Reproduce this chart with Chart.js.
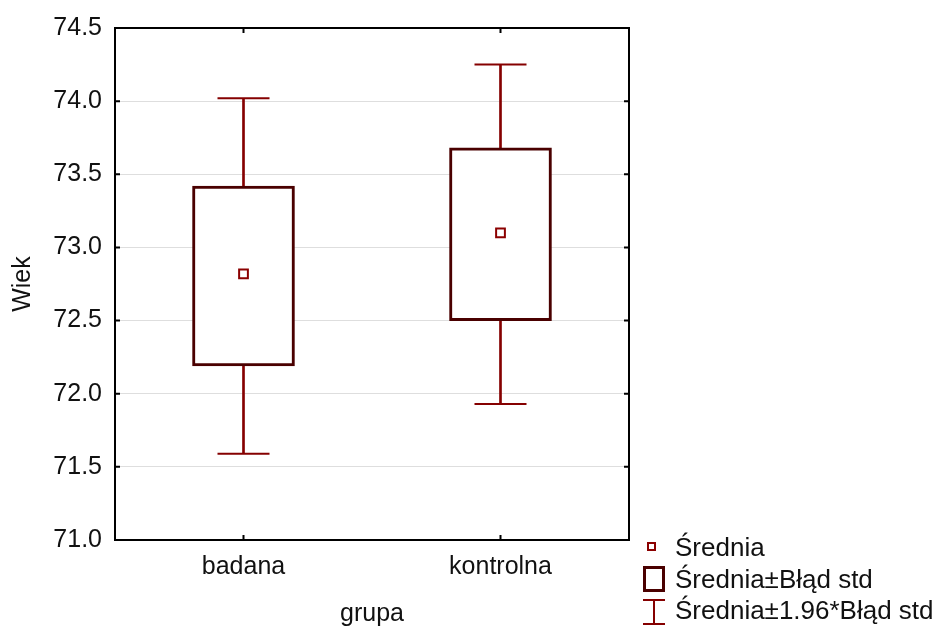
<!DOCTYPE html>
<html>
<head>
<meta charset="utf-8">
<script src="https://cdn.jsdelivr.net/npm/chart.js@4.4.1/dist/chart.umd.min.js"></script>
<style>
  html, body { margin: 0; padding: 0; background: #fff; }
  #wrap { position: relative; width: 935px; height: 627px; overflow: hidden; }
  .leg { position: absolute; font: 26px/30px "Liberation Sans", Arial, sans-serif; color: #111; white-space: nowrap; }
  .sym { position: absolute; box-sizing: border-box; }
</style>
</head>
<body>
<div id="wrap">
  <canvas id="chart" width="935" height="627"></canvas>
  <div class="sym" style="left:647px;top:542px;width:9px;height:9px;border:2px solid #8b0000;"></div>
  <div class="leg" style="left:675px;top:532px;">Średnia</div>
  <div class="sym" style="left:643px;top:566px;width:22px;height:26px;border:3px solid #4a0000;"></div>
  <div class="leg" style="left:675px;top:564px;">Średnia±Błąd std</div>
  <div class="sym" style="left:643px;top:599px;width:22px;height:2px;background:#850000;"></div>
  <div class="sym" style="left:653px;top:599px;width:2px;height:26px;background:#850000;"></div>
  <div class="sym" style="left:643px;top:623px;width:22px;height:2px;background:#850000;"></div>
  <div class="leg" style="left:675px;top:595px;">Średnia±1.96*Błąd std</div>
</div>
<script>
const groups = ['badana', 'kontrolna'];
const means = [72.82, 73.10];
const boxLow = [72.19, 72.50];
const boxHigh = [73.42, 73.68];
const whiskLow = [71.59, 71.93];
const whiskHigh = [74.02, 74.25];
const yMin = 71.0;
const yMax = 74.5;

const font = { family: '"Liberation Sans", Arial, sans-serif', size: 25 };

// frame round the plot with small inward ticks, like the original
const framePlugin = {
    id: 'frame',
    afterDatasetsDraw(chart) {
        const { ctx, chartArea: a, scales } = chart;
        ctx.save();
        ctx.strokeStyle = '#000';
        ctx.lineWidth = 2;
        ctx.strokeRect(a.left, a.top, a.right - a.left, a.bottom - a.top);
        ctx.beginPath();
        groups.forEach((g, i) => {
            const x = scales.x.getPixelForTick(i);
            ctx.moveTo(x, a.top); ctx.lineTo(x, a.top + 5);
            ctx.moveTo(x, a.bottom); ctx.lineTo(x, a.bottom - 5);
        });
        scales.y.ticks.forEach((t, i) => {
            const y = scales.y.getPixelForTick(i);
            ctx.moveTo(a.left, y); ctx.lineTo(a.left + 5, y);
            ctx.moveTo(a.right, y); ctx.lineTo(a.right - 5, y);
        });
        ctx.stroke();
        ctx.restore();
    }
};

new Chart(document.getElementById('chart'), {
    data: {
        labels: groups,
        datasets: [
            {
                type: 'bar',
                data: groups.map((g, i) => [whiskLow[i], whiskHigh[i]]),
                backgroundColor: '#850000',
                barThickness: 2,
                grouped: false,
                order: 4
            },
            {
                type: 'bar',
                data: groups.map((g, i) => [boxLow[i], boxHigh[i]]),
                backgroundColor: '#fff',
                borderColor: '#4a0000',
                borderWidth: 3,
                borderSkipped: false,
                barThickness: 102,
                grouped: false,
                order: 3
            },
            {
                type: 'line',
                showLine: false,
                data: groups.flatMap((g, i) => [{ x: g, y: whiskLow[i] }, { x: g, y: whiskHigh[i] }]),
                pointStyle: 'line',
                pointRadius: 26,
                borderColor: '#850000',
                borderWidth: 2,
                order: 2
            },
            {
                type: 'line',
                showLine: false,
                data: groups.map((g, i) => ({ x: g, y: means[i] })),
                pointStyle: 'rect',
                pointRadius: 6.2,
                backgroundColor: '#fff',
                borderColor: '#8b0000',
                borderWidth: 2,
                order: 1
            }
        ]
    },
    options: {
        responsive: false,
        animation: false,
        layout: { padding: { top: 24, right: 306, left: 0, bottom: 0 } },
        plugins: { legend: { display: false }, tooltip: { enabled: false } },
        scales: {
            x: {
                type: 'category',
                offset: true,
                grid: { display: false, drawTicks: false },
                border: { display: false },
                ticks: { font: font, color: '#111', padding: 12 },
                title: { display: true, text: 'grupa', font: { ...font, lineHeight: 1.0 }, color: '#111', padding: 0 },
                afterFit(s) { s.height = 87; }
            },
            y: {
                min: yMin,
                max: yMax,
                grid: { color: '#dedede', drawTicks: false },
                border: { display: false },
                ticks: {
                    stepSize: 0.5,
                    font: font,
                    color: '#111',
                    padding: 13,
                    callback: v => v.toFixed(1)
                },
                title: { display: true, text: 'Wiek', font: font, color: '#111', padding: { top: 8, bottom: 0 } },
                afterFit(s) { s.width = 115; }
            }
        }
    },
    plugins: [framePlugin]
});
</script>
</body>
</html>
